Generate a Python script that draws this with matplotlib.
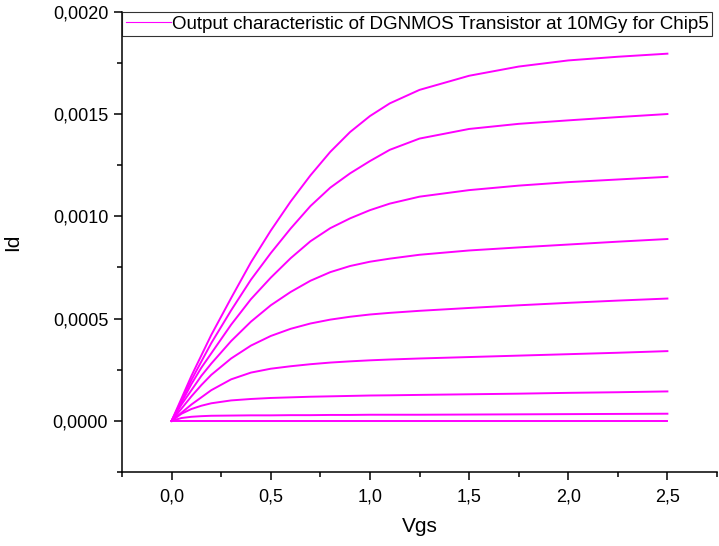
#!/usr/bin/env python3
"""
Output characteristic plot for the DGNMOS transistor (10 MGy, Chip5).
Values were read off the original Origin export.
"""
import matplotlib
matplotlib.use("Agg")
import matplotlib.pyplot as plt
from matplotlib.ticker import MultipleLocator, FuncFormatter

matplotlib.rcParams['font.family'] = ['Liberation Sans', 'DejaVu Sans']

OUTPUT_FILE = "out.png"
LEGEND_LABEL = "Output characteristic of DGNMOS Transistor at 10MGy for Chip5"

# sweep points (V)
vgs = [0, 0.05, 0.1, 0.15, 0.2, 0.3, 0.4, 0.5, 0.6, 0.7,
       0.8, 0.9, 1.0, 1.1, 1.25, 1.5, 1.75, 2.0, 2.25, 2.5]

# drain current for each curve (A), top curve first
id_1 = [0, 0.00011, 0.00022, 0.00032, 0.00042, 0.0006, 0.000775, 0.00093, 0.001072, 0.0012,
        0.001315, 0.001412, 0.00149, 0.001552, 0.001618, 0.001687, 0.001732, 0.001762, 0.00178, 0.001795]
id_2 = [0, 0.0001, 0.0002, 0.00029, 0.00038, 0.00054, 0.00069, 0.00082, 0.00094, 0.00105,
        0.00114, 0.00121, 0.00127, 0.001325, 0.00138, 0.001427, 0.001452, 0.001469, 0.001485, 0.0015]
id_3 = [0, 0.00009, 0.00018, 0.00026, 0.00033, 0.00047, 0.000595, 0.0007, 0.000795, 0.000878,
        0.000942, 0.00099, 0.00103, 0.001062, 0.001096, 0.001128, 0.00115, 0.001167, 0.00118, 0.001193]
id_4 = [0, 0.00008, 0.00015, 0.00022, 0.00028, 0.00039, 0.000485, 0.000565, 0.00063, 0.000685,
        0.000727, 0.000757, 0.000778, 0.000793, 0.000812, 0.000833, 0.000848, 0.000862, 0.000876, 0.000889]
id_5 = [0, 0.00006, 0.00012, 0.000175, 0.000225, 0.000305, 0.000368, 0.000415, 0.00045, 0.000476,
        0.000495, 0.000509, 0.00052, 0.000528, 0.000538, 0.000552, 0.000565, 0.000577, 0.000588, 0.000598]
id_6 = [0, 0.00004, 0.00008, 0.000115, 0.00015, 0.000203, 0.000236, 0.000255, 0.000267, 0.000277,
        0.000285, 0.000291, 0.000296, 0.0003, 0.000305, 0.000312, 0.000319, 0.000326, 0.000333, 0.000341]
id_7 = [0, 0.000035, 0.000058, 0.000074, 0.000086, 0.0001, 0.000107, 0.000112, 0.000115, 0.000118,
        0.00012, 0.000122, 0.000124, 0.000125, 0.000127, 0.00013, 0.000133, 0.000137, 0.00014, 0.000144]
id_8 = [0, 0.000014, 0.00002, 0.000023, 0.000025, 0.000026, 0.000027, 0.000027, 0.000028, 0.000028,
        0.000029, 0.000029, 0.00003, 0.00003, 0.00003, 0.000031, 0.000032, 0.000033, 0.000034, 0.000035]
id_9 = [0, 0, 0, 0, 0, 0, 0, 0, 0, 0,
        0, 0, 0, 0, 0, 0, 0, 0, 0, 0]

CURVES = [id_1, id_2, id_3, id_4, id_5, id_6, id_7, id_8, id_9]


def comma_fmt(decimals):
    return FuncFormatter(lambda v, pos: f"{v:.{decimals}f}".replace('.', ','))


def main():
    fig = plt.figure(figsize=(7.19, 5.46), dpi=100)
    ax = fig.add_axes([0.1697, 0.1355, 0.8275, 0.843])

    for i, ids in enumerate(CURVES):
        ax.plot(vgs, ids, color='#ff00ff', linewidth=1.4,
                label=LEGEND_LABEL if i == 0 else None)

    ax.set_xlim(-0.25, 2.75)
    ax.set_ylim(-0.00025, 0.002)

    ax.xaxis.set_major_locator(MultipleLocator(0.5))
    ax.xaxis.set_minor_locator(MultipleLocator(0.25))
    ax.yaxis.set_major_locator(MultipleLocator(0.0005))
    ax.yaxis.set_minor_locator(MultipleLocator(0.00025))
    ax.xaxis.set_major_formatter(comma_fmt(1))
    ax.yaxis.set_major_formatter(comma_fmt(4))

    for side in ('top', 'right'):
        ax.spines[side].set_visible(False)
    for side in ('left', 'bottom'):
        ax.spines[side].set_linewidth(1.1)

    ax.tick_params(which='major', direction='out', length=6, width=1.1,
                   labelsize=13, pad=4)
    ax.tick_params(which='minor', direction='out', length=3.5, width=1.1)
    ax.tick_params(axis='x', which='major', pad=6)

    ax.set_xlabel('Vgs', fontsize=15, labelpad=8)
    ax.set_ylabel('Id', fontsize=15, labelpad=22)

    leg = ax.legend(loc='upper left', bbox_to_anchor=(0, 1), borderaxespad=0,
                    fontsize=13.5, frameon=True, fancybox=False, shadow=False,
                    handlelength=2.4, handletextpad=0.05, borderpad=0.2)
    leg.get_frame().set_edgecolor('black')
    leg.get_frame().set_linewidth(0.8)
    leg.get_lines()[0].set_linewidth(0.8)

    fig.savefig(OUTPUT_FILE, dpi=100)
    plt.close(fig)


if __name__ == "__main__":
    main()
